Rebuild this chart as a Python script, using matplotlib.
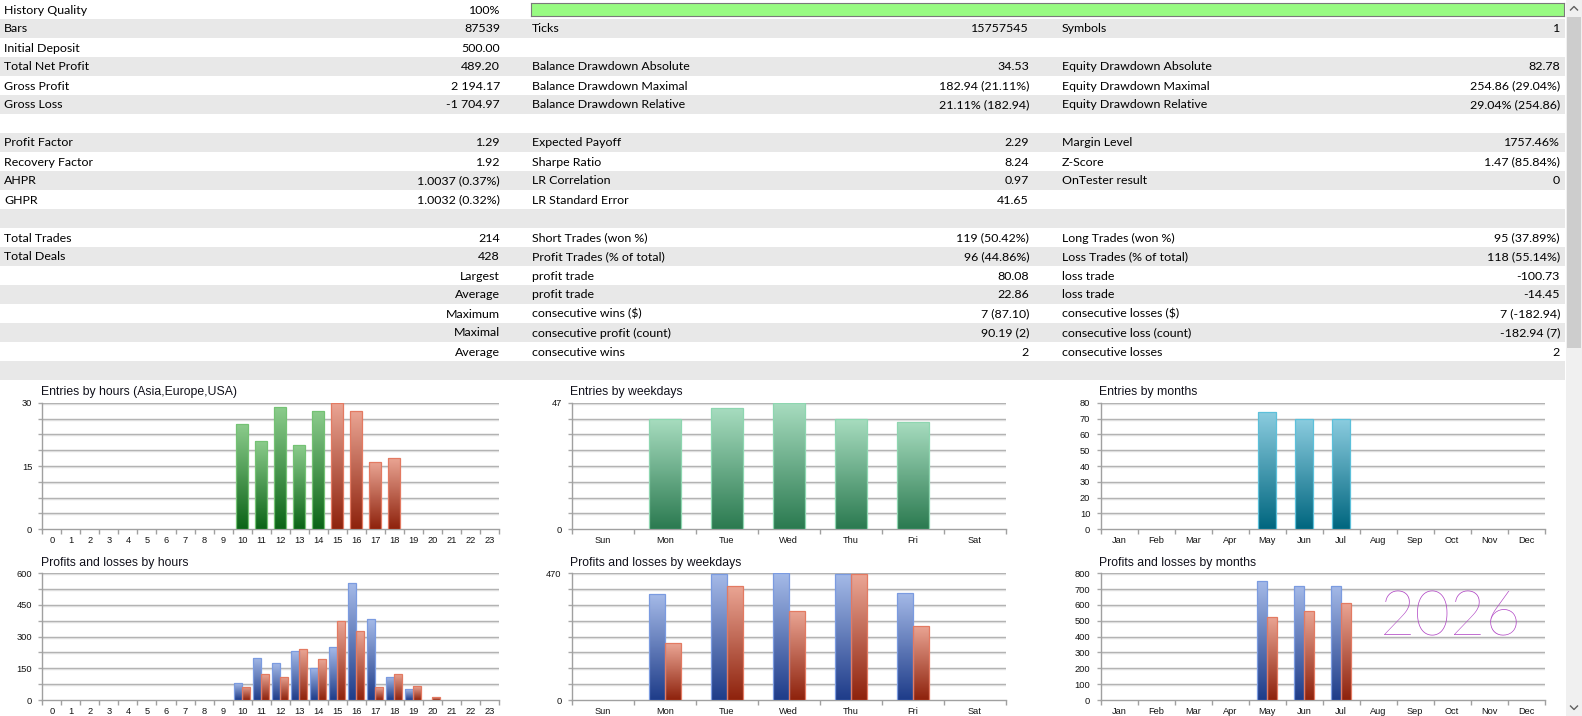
import numpy as np
import matplotlib
matplotlib.use("Agg")
import matplotlib.pyplot as plt
from matplotlib.colors import LinearSegmentedColormap
from matplotlib.patches import Rectangle
from matplotlib.transforms import offset_copy

W, H = 1582, 716

# --- report table ---
history_quality = 100
report_rows = [
    ["History Quality", "100%", "", "", "", ""],
    ["Bars", "87539", "Ticks", "15757545", "Symbols", "1"],
    ["Initial Deposit", "500.00", "", "", "", ""],
    ["Total Net Profit", "489.20", "Balance Drawdown Absolute", "34.53", "Equity Drawdown Absolute", "82.78"],
    ["Gross Profit", "2 194.17", "Balance Drawdown Maximal", "182.94 (21.11%)", "Equity Drawdown Maximal", "254.86 (29.04%)"],
    ["Gross Loss", "-1 704.97", "Balance Drawdown Relative", "21.11% (182.94)", "Equity Drawdown Relative", "29.04% (254.86)"],
    ["", "", "", "", "", ""],
    ["Profit Factor", "1.29", "Expected Payoff", "2.29", "Margin Level", "1757.46%"],
    ["Recovery Factor", "1.92", "Sharpe Ratio", "8.24", "Z-Score", "1.47 (85.84%)"],
    ["AHPR", "1.0037 (0.37%)", "LR Correlation", "0.97", "OnTester result", "0"],
    ["GHPR", "1.0032 (0.32%)", "LR Standard Error", "41.65", "", ""],
    ["", "", "", "", "", ""],
    ["Total Trades", "214", "Short Trades (won %)", "119 (50.42%)", "Long Trades (won %)", "95 (37.89%)"],
    ["Total Deals", "428", "Profit Trades (% of total)", "96 (44.86%)", "Loss Trades (% of total)", "118 (55.14%)"],
    ["", "Largest", "profit trade", "80.08", "loss trade", "-100.73"],
    ["", "Average", "profit trade", "22.86", "loss trade", "-14.45"],
    ["", "Maximum", "consecutive wins ($)", "7 (87.10)", "consecutive losses ($)", "7 (-182.94)"],
    ["", "Maximal", "consecutive profit (count)", "90.19 (2)", "consecutive loss (count)", "-182.94 (7)"],
    ["", "Average", "consecutive wins", "2", "consecutive losses", "2"],
    ["", "", "", "", "", ""],
]

# --- chart data ---
hours = ["0", "1", "2", "3", "4", "5", "6", "7", "8", "9", "10", "11",
         "12", "13", "14", "15", "16", "17", "18", "19", "20", "21", "22", "23"]
entries_hours = [0, 0, 0, 0, 0, 0, 0, 0, 0, 0, 25, 21, 29, 20, 28, 30, 28, 16, 17, 0, 0, 0, 0, 0]
profit_hours = [0, 0, 0, 0, 0, 0, 0, 0, 0, 0, 79, 200, 175, 232, 153, 250, 552, 382, 110, 50, 0, 0, 0, 0]
loss_hours = [0, 0, 0, 0, 0, 0, 0, 0, 0, 0, 63, 122, 110, 240, 193, 374, 325, 60, 125, 65, 13, 0, 0, 0]
usa_session_start = 15

weekdays = ["Sun", "Mon", "Tue", "Wed", "Thu", "Fri", "Sat"]
entries_weekdays = [0, 41, 45, 47, 41, 40, 0]
profit_weekdays = [0, 392, 466, 470, 469, 398, 0]
loss_weekdays = [0, 210, 423, 331, 466, 275, 0]

months = ["Jan", "Feb", "Mar", "Apr", "May", "Jun", "Jul", "Aug", "Sep", "Oct", "Nov", "Dec"]
entries_months = [0, 0, 0, 0, 74, 70, 70, 0, 0, 0, 0, 0]
profit_months = [0, 0, 0, 0, 752, 722, 720, 0, 0, 0, 0, 0]
loss_months = [0, 0, 0, 0, 525, 565, 615, 0, 0, 0, 0, 0]

GREEN = ("#8dcd8d", "#0b6417", "#74c274")
RED = ("#eba695", "#8e220c", "#e37a62")
BLUE = ("#a5bae8", "#1e3c89", "#7b9be0")
MINT = ("#a8ddc0", "#2b7a50", "#8ed6b0")
TEAL = ("#8ccde0", "#00667f", "#5cc0da")

fig = plt.figure(figsize=(W / 100, H / 100), dpi=100)
fig.patch.set_facecolor("white")


def px_axes(x0, y0, x1, y1):
    return fig.add_axes([x0 / W, 1 - y1 / H, (x1 - x0) / W, (y1 - y0) / H])


# table background + text
tab = px_axes(0, 0, W, H)
tab.set_xlim(0, W)
tab.set_ylim(H, 0)
tab.axis("off")
row_h = 19
for i, row in enumerate(report_rows):
    y = i * row_h
    if i % 2 == 1:
        tab.add_patch(Rectangle((0, y), 1565, row_h, color="#e8e8e8", lw=0))
    yc = y + row_h / 2 + 0.5
    font = dict(family="Lato", fontsize=8.9, color="black", va="center")
    tab.text(4, yc, row[0], ha="left", **font)
    tab.text(500, yc, row[1], ha="right", **font)
    tab.text(532, yc, row[2], ha="left", **font)
    tab.text(1029, yc, row[3], ha="right", **font)
    tab.text(1062, yc, row[4], ha="left", **font)
    tab.text(1560, yc, row[5], ha="right", **font)

# scrollbar
tab.add_patch(Rectangle((1566, 0), 16, H, color="#f0f0f0", lw=0))
tab.add_patch(Rectangle((1567, 17), 14, 331, color="#cdcdcd", lw=0))
tab.plot([1570.5, 1574, 1577.5], [10, 6.5, 10], color="#606060", lw=1)
tab.plot([1570.5, 1574, 1577.5], [706, 709.5, 706], color="#606060", lw=1)

# history quality bar
qax = px_axes(531, 3, 1564, 16)
qax.barh(0, history_quality, height=1, color="#98fb82", lw=0)
qax.set_xlim(0, 100)
qax.set_ylim(-0.5, 0.5)
qax.set_xticks([])
qax.set_yticks([])
for s in qax.spines.values():
    s.set_color("#7a7a7a")


def grad_bars(ax, x, h, w, colors, align="center"):
    top, bottom, edge = colors
    xs = [xi for xi, hi in zip(x, h) if hi > 0]
    hs = [hi for hi in h if hi > 0]
    bars = ax.bar(xs, hs, w, align=align, facecolor="none", edgecolor=edge, lw=0.9, zorder=4)
    cmap = LinearSegmentedColormap.from_list("g", [bottom, top])
    grad = np.linspace(0, 1, 128).reshape(-1, 1)
    for b in bars:
        bx, bw, bh = b.get_x(), b.get_width(), b.get_height()
        im = ax.imshow(grad, cmap=cmap, origin="lower", aspect="auto",
                       extent=[bx, bx + bw, 0, bh], zorder=3, interpolation="bilinear")
        im.set_clip_path(b)


def setup_chart(ax, labels, ymax, ylabels, title):
    n = len(labels)
    ax.set_facecolor("none")
    ax.set_xlim(0, n)
    ax.set_ylim(0, ymax)
    ax.set_aspect("auto")
    ax.spines["top"].set_visible(False)
    ax.spines["right"].set_visible(False)
    for s in ["left", "bottom"]:
        ax.spines[s].set_color("#a0a0a0")
        ax.spines[s].set_linewidth(1)
    yt = np.linspace(0, ymax, 9)
    ax.set_yticks(yt)
    ax.set_yticklabels([f"{v:g}" if any(np.isclose(v, l) for l in ylabels) else "" for v in yt],
                       family="Liberation Sans")
    ax.tick_params(axis="y", length=3, width=1, color="#a9a9a9", pad=4.3,
                   labelsize=6.7, labelcolor="#151515")
    ax.set_xticks(np.arange(n + 1))
    ax.set_xticklabels([])
    ax.tick_params(axis="x", which="major", length=3.6, width=1, color="#a0a0a0")
    ax.set_xticks(np.arange(n) + 0.5, minor=True)
    ax.set_xticklabels(labels, minor=True, family="Liberation Sans")
    ax.tick_params(axis="x", which="minor", length=0, pad=5, labelsize=6.7, labelcolor="#151515")
    base = ax.get_yaxis_transform()
    shadow = offset_copy(base, fig=fig, y=-1, units="dots")
    for v in yt[1:]:
        ax.plot([0, 1], [v, v], color="#a9a9a9", lw=1, zorder=1, transform=base)
        ax.plot([0, 1], [v, v], color="#dedede", lw=1, zorder=1, transform=shadow)
    ax.annotate(title, xy=(0, 1), xycoords="axes fraction", xytext=(-1, 7.4),
                textcoords="offset points", ha="left", va="center",
                family="Liberation Sans", fontsize=8.8, color="#10101a")


top_row = (402.7, 529.3)
bot_row = (573.3, 700)
cols = [(42.3, 499), (571.7, 1005.7), (1100.5, 1544.7)]

# entries by hours
ax = px_axes(cols[0][0], top_row[0], cols[0][1], top_row[1])
xh = np.arange(len(hours)) + 0.5
hour_vals = np.array(entries_hours)
is_usa = np.array([int(hh) >= usa_session_start for hh in hours])
grad_bars(ax, xh[~is_usa], hour_vals[~is_usa], 0.63, GREEN)
grad_bars(ax, xh[is_usa], hour_vals[is_usa], 0.63, RED)
setup_chart(ax, hours, 30, [0, 15, 30], "Entries by hours (Asia,Europe,USA)")

# profits and losses by hours
ax = px_axes(cols[0][0], bot_row[0], cols[0][1], bot_row[1])
grad_bars(ax, xh - 0.42, profit_hours, 0.42, BLUE, align="edge")
grad_bars(ax, xh, loss_hours, 0.42, RED, align="edge")
setup_chart(ax, hours, 600, [0, 150, 300, 450, 600], "Profits and losses by hours")

# entries by weekdays
ax = px_axes(cols[1][0], top_row[0], cols[1][1], top_row[1])
xw = np.arange(len(weekdays)) + 0.5
grad_bars(ax, xw, entries_weekdays, 0.51, MINT)
setup_chart(ax, weekdays, 47, [0, 47], "Entries by weekdays")

# profits and losses by weekdays
ax = px_axes(cols[1][0], bot_row[0], cols[1][1], bot_row[1])
grad_bars(ax, xw - 0.255, profit_weekdays, 0.255, BLUE, align="edge")
grad_bars(ax, xw, loss_weekdays, 0.255, RED, align="edge")
setup_chart(ax, weekdays, 470, [0, 470], "Profits and losses by weekdays")

# entries by months
ax = px_axes(cols[2][0], top_row[0], cols[2][1], top_row[1])
xm = np.arange(len(months)) + 0.5
grad_bars(ax, xm, entries_months, 0.5, TEAL)
setup_chart(ax, months, 80, list(range(0, 81, 10)), "Entries by months")

# profits and losses by months
ax = px_axes(cols[2][0], bot_row[0], cols[2][1], bot_row[1])
grad_bars(ax, xm - 0.26, profit_months, 0.26, BLUE, align="edge")
grad_bars(ax, xm, loss_months, 0.26, RED, align="edge")
setup_chart(ax, months, 800, list(range(0, 801, 100)), "Profits and losses by months")

# handwritten note
fig.text(1451 / W, 1 - 619 / H, "2026", color="#b044c4", fontsize=44, family="Lato",
         fontweight="light", ha="center", va="center", zorder=10)

fig.savefig("out.png", dpi=100, facecolor="white")
